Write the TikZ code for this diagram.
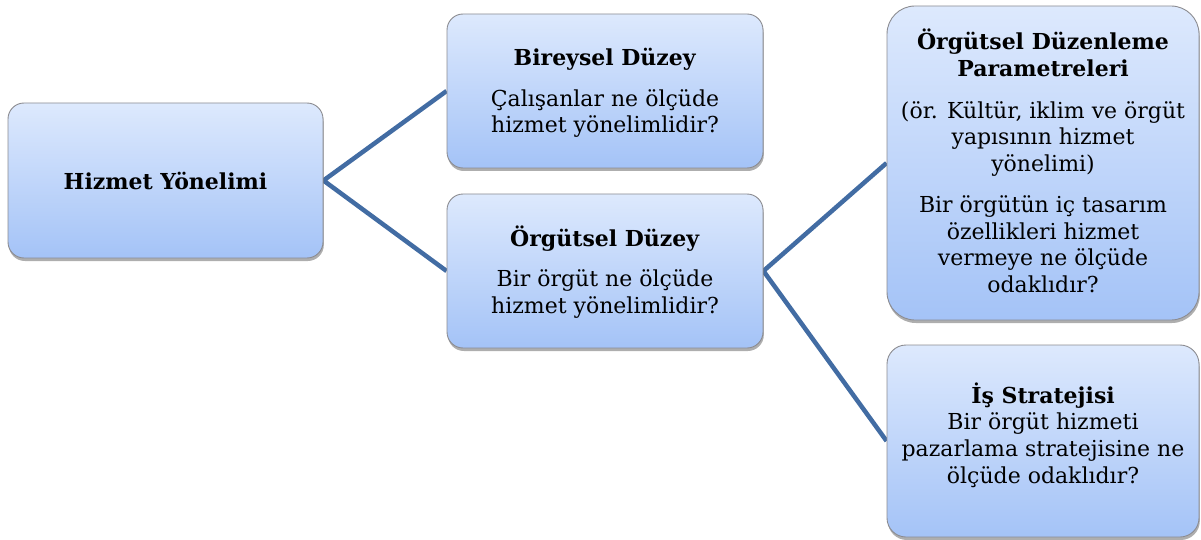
\documentclass[tikz,border=0pt]{standalone}
\usepackage{fontspec}
\setmainfont{DejaVu Serif}
\usetikzlibrary{shadows,backgrounds}
\definecolor{linkblue}{RGB}{66,108,163}
\definecolor{boxtop}{RGB}{221,233,253}
\definecolor{boxbot}{RGB}{164,195,247}
\definecolor{boxline}{RGB}{140,140,145}
\tikzset{
  box/.style={draw=boxline, line width=0.9pt, rounded corners=#1,
    top color=boxtop, bottom color=boxbot,
    drop shadow={shadow xshift=0.8pt, shadow yshift=-3pt, opacity=0.45, fill=black!70},
    inner sep=0pt},
  txt/.style={align=center, inner sep=0pt, font=\fontsize{22}{26.7}\selectfont},
  link/.style={draw=linkblue, line width=4.5pt, line join=miter},
}
\begin{document}
\begin{tikzpicture}[x=1pt,y=-1pt]
\useasboundingbox (0,0) rectangle (1201,540);
\node[box=16, minimum width=315pt, minimum height=155pt] (a) at (165.5,180.5) {};
\node[box=16, minimum width=316pt, minimum height=154pt] (b) at (605,91) {};
\node[box=16, minimum width=316pt, minimum height=154pt] (c) at (605,271) {};
\node[box=28, minimum width=312pt, minimum height=314pt] (d) at (1043,163) {};
\node[box=19, minimum width=312pt, minimum height=192pt] (e) at (1043,441) {};
\node[txt] (ta) at (165.5,180.5) {\textbf{Hizmet Yönelimi}};
\node[txt] (tb) at (605,93) {\textbf{Bireysel Düzey}\\[14pt]Çalışanlar ne ölçüde\\hizmet yönelimlidir?};
\node[txt] (tc) at (605,272) {\textbf{Örgütsel Düzey}\\[14pt]Bir örgüt ne ölçüde\\hizmet yönelimlidir?};
\node[txt] (td) at (1043,161) {\textbf{Örgütsel Düzenleme}\\\textbf{Parametreleri}\\[15pt](ör. Kültür, iklim ve örgüt\\yapısının hizmet\\yönelimi)\\[14pt]Bir örgütün iç tasarım\\özellikleri hizmet\\vermeye ne ölçüde\\odaklıdır?};
\node[txt] (te) at (1043,435) {\textbf{İş Stratejisi}\\Bir örgüt hizmeti\\pazarlama stratejisine ne\\ölçüde odaklıdır?};
\begin{scope}[on background layer]
\draw[link] (b.west) -- (a.east) -- (c.west);
\draw[link] (d.west) -- (c.east) -- (e.west);
\end{scope}
\end{tikzpicture}
\end{document}
